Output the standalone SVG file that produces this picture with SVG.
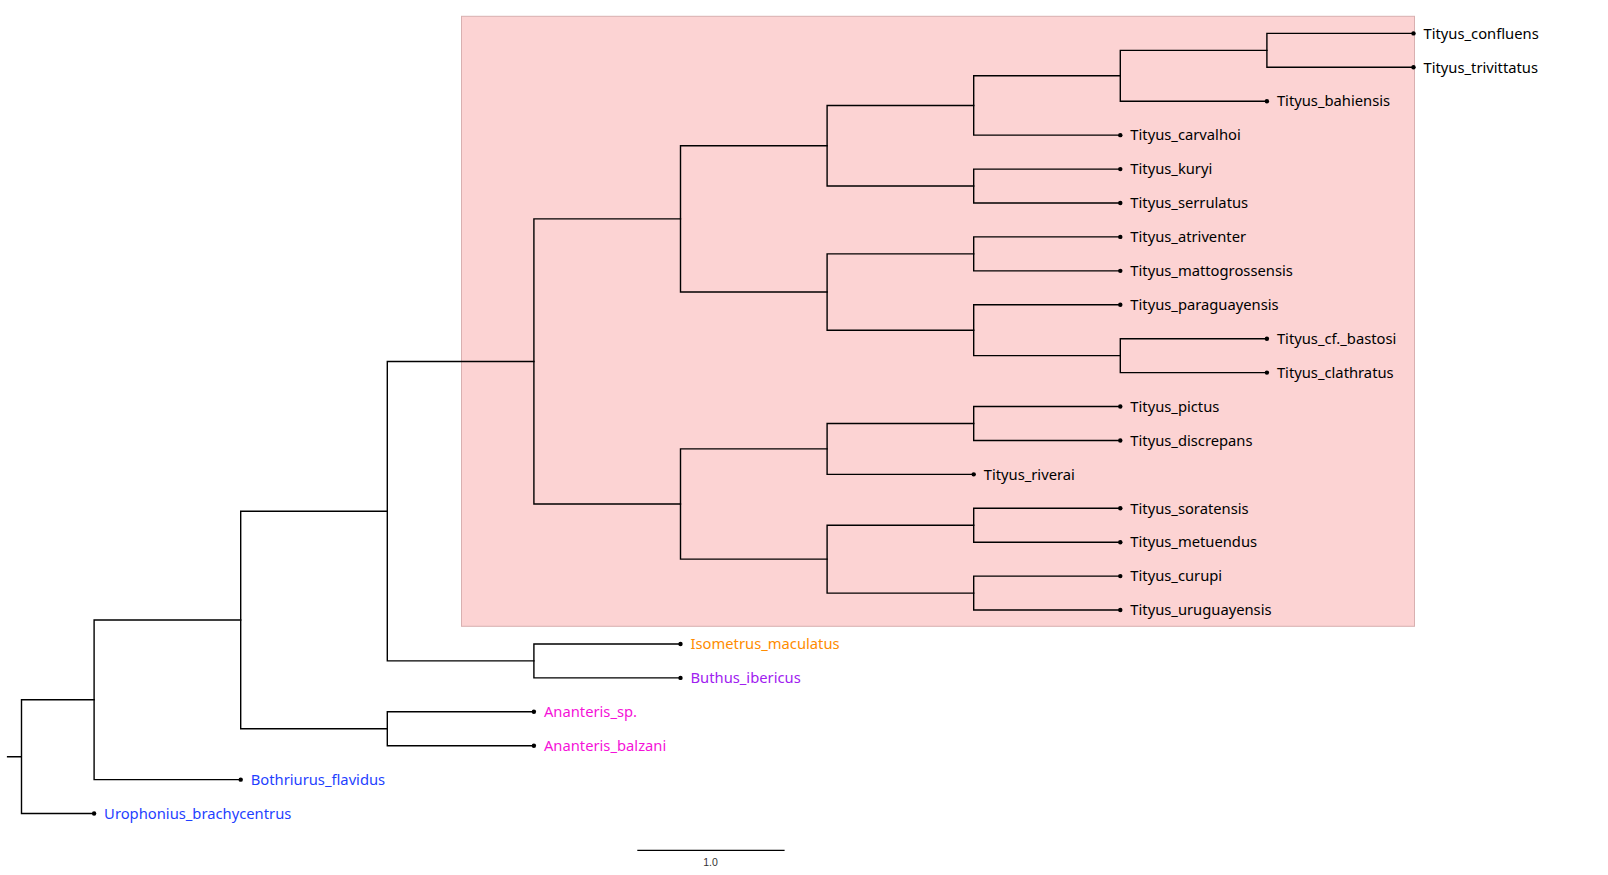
<svg xmlns="http://www.w3.org/2000/svg" width="1608" height="875" viewBox="0 0 1608 875">
<style>
.br{fill:none;stroke:#000;stroke-width:1.4;stroke-linecap:square}
.tip{fill:#000}
.lb{font-family:"Noto Sans","Open Sans",sans-serif;font-size:14.75px;fill:#000}
.or{fill:#ff8c00}.pu{fill:#a020f0}.mg{fill:#f512d8}.bl{fill:#1f3fff}
</style>
<rect width="1608" height="875" fill="#fff"/>
<rect id="highlight" x="461.5" y="16.3" width="953" height="610" fill="#fcd3d3" stroke="#d8b0b0" stroke-width="1"/>
<g id="connectors">
<path class="br" d="M7.6,756.69H21.5M21.5,699.81V813.56M21.5,699.81H94.1M21.5,813.56H94.1"/>
<path class="br" d="M94.1,619.98V779.64M94.1,619.98H240.7M94.1,779.64H240.7"/>
<path class="br" d="M240.7,511.2V728.76M240.7,511.2H387.3M240.7,728.76H387.3"/>
<path class="br" d="M387.3,711.8V745.72M387.3,711.8H533.9M387.3,745.72H533.9"/>
<path class="br" d="M387.3,361.47V660.92M387.3,361.47H533.9M387.3,660.92H533.9"/>
<path class="br" d="M533.9,643.96V677.88M533.9,643.96H680.5M533.9,677.88H680.5"/>
<path class="br" d="M533.9,218.9V504.04M533.9,218.9H680.5M533.9,504.04H680.5"/>
<path class="br" d="M680.5,145.76V292.04M680.5,145.76H827.1M680.5,292.04H827.1"/>
<path class="br" d="M827.1,105.48V186.04M827.1,105.48H973.7M827.1,186.04H973.7"/>
<path class="br" d="M973.7,75.8V135.16M973.7,75.8H1120.3M973.7,135.16H1120.3"/>
<path class="br" d="M1120.3,50.36V101.24M1120.3,50.36H1266.9M1120.3,101.24H1266.9"/>
<path class="br" d="M1266.9,33.4V67.32M1266.9,33.4H1413.5M1266.9,67.32H1413.5"/>
<path class="br" d="M973.7,169.08V203M973.7,169.08H1120.3M973.7,203H1120.3"/>
<path class="br" d="M827.1,253.88V330.2M827.1,253.88H973.7M827.1,330.2H973.7"/>
<path class="br" d="M973.7,236.92V270.84M973.7,236.92H1120.3M973.7,270.84H1120.3"/>
<path class="br" d="M973.7,304.76V355.64M973.7,304.76H1120.3M973.7,355.64H1120.3"/>
<path class="br" d="M1120.3,338.68V372.6M1120.3,338.68H1266.9M1120.3,372.6H1266.9"/>
<path class="br" d="M680.5,448.92V559.16M680.5,448.92H827.1M680.5,559.16H827.1"/>
<path class="br" d="M827.1,423.48V474.36M827.1,423.48H973.7M827.1,474.36H973.7"/>
<path class="br" d="M973.7,406.52V440.44M973.7,406.52H1120.3M973.7,440.44H1120.3"/>
<path class="br" d="M827.1,525.24V593.08M827.1,525.24H973.7M827.1,593.08H973.7"/>
<path class="br" d="M973.7,508.28V542.2M973.7,508.28H1120.3M973.7,542.2H1120.3"/>
<path class="br" d="M973.7,576.12V610.04M973.7,576.12H1120.3M973.7,610.04H1120.3"/>
</g>
<g id="n0"><circle class="tip" cx="1413.5" cy="33.4" r="2.2"/><text class="lb" x="1423.5" y="38.6">Tityus_confluens</text></g>
<g id="n1"><circle class="tip" cx="1413.5" cy="67.32" r="2.2"/><text class="lb" x="1423.5" y="72.5">Tityus_trivittatus</text></g>
<g id="n2"><circle class="tip" cx="1266.9" cy="101.24" r="2.2"/><text class="lb" x="1276.9" y="106.4">Tityus_bahiensis</text></g>
<g id="n3"><circle class="tip" cx="1120.3" cy="135.16" r="2.2"/><text class="lb" x="1130.3" y="140.4">Tityus_carvalhoi</text></g>
<g id="n4"><circle class="tip" cx="1120.3" cy="169.08" r="2.2"/><text class="lb" x="1130.3" y="174.3">Tityus_kuryi</text></g>
<g id="n5"><circle class="tip" cx="1120.3" cy="203" r="2.2"/><text class="lb" x="1130.3" y="208.2">Tityus_serrulatus</text></g>
<g id="n6"><circle class="tip" cx="1120.3" cy="236.92" r="2.2"/><text class="lb" x="1130.3" y="242.1">Tityus_atriventer</text></g>
<g id="n7"><circle class="tip" cx="1120.3" cy="270.84" r="2.2"/><text class="lb" x="1130.3" y="276">Tityus_mattogrossensis</text></g>
<g id="n8"><circle class="tip" cx="1120.3" cy="304.76" r="2.2"/><text class="lb" x="1130.3" y="310">Tityus_paraguayensis</text></g>
<g id="n9"><circle class="tip" cx="1266.9" cy="338.68" r="2.2"/><text class="lb" x="1276.9" y="343.9">Tityus_cf._bastosi</text></g>
<g id="n10"><circle class="tip" cx="1266.9" cy="372.6" r="2.2"/><text class="lb" x="1276.9" y="377.8">Tityus_clathratus</text></g>
<g id="n11"><circle class="tip" cx="1120.3" cy="406.52" r="2.2"/><text class="lb" x="1130.3" y="411.7">Tityus_pictus</text></g>
<g id="n12"><circle class="tip" cx="1120.3" cy="440.44" r="2.2"/><text class="lb" x="1130.3" y="445.6">Tityus_discrepans</text></g>
<g id="n13"><circle class="tip" cx="973.7" cy="474.36" r="2.2"/><text class="lb" x="983.7" y="479.6">Tityus_riverai</text></g>
<g id="n14"><circle class="tip" cx="1120.3" cy="508.28" r="2.2"/><text class="lb" x="1130.3" y="513.5">Tityus_soratensis</text></g>
<g id="n15"><circle class="tip" cx="1120.3" cy="542.2" r="2.2"/><text class="lb" x="1130.3" y="547.4">Tityus_metuendus</text></g>
<g id="n16"><circle class="tip" cx="1120.3" cy="576.12" r="2.2"/><text class="lb" x="1130.3" y="581.3">Tityus_curupi</text></g>
<g id="n17"><circle class="tip" cx="1120.3" cy="610.04" r="2.2"/><text class="lb" x="1130.3" y="615.2">Tityus_uruguayensis</text></g>
<g id="n18"><circle class="tip" cx="680.5" cy="643.96" r="2.2"/><text class="lb or" x="690.5" y="649.2">Isometrus_maculatus</text></g>
<g id="n19"><circle class="tip" cx="680.5" cy="677.88" r="2.2"/><text class="lb pu" x="690.5" y="683.1">Buthus_ibericus</text></g>
<g id="n20"><circle class="tip" cx="533.9" cy="711.8" r="2.2"/><text class="lb mg" x="543.9" y="717">Ananteris_sp.</text></g>
<g id="n21"><circle class="tip" cx="533.9" cy="745.72" r="2.2"/><text class="lb mg" x="543.9" y="750.9">Ananteris_balzani</text></g>
<g id="n22"><circle class="tip" cx="240.7" cy="779.64" r="2.2"/><text class="lb bl" x="250.7" y="784.8">Bothriurus_flavidus</text></g>
<g id="n23"><circle class="tip" cx="94.1" cy="813.56" r="2.2"/><text class="lb bl" x="104.1" y="818.8">Urophonius_brachycentrus</text></g>
<g id="scalebar">
<line x1="637.3" y1="850.3" x2="784.6" y2="850.3" stroke="#000" stroke-width="1.2"/>
<text x="710.5" y="865.5" text-anchor="middle" font-family="Liberation Sans, Arial, sans-serif" font-size="10.5" fill="#333">1.0</text>
</g>
</svg>
